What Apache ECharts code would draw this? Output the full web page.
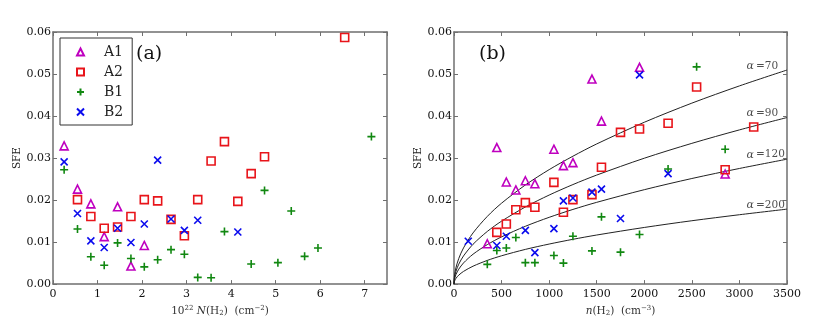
<!DOCTYPE html>
<html>
<head>
<meta charset="utf-8">
<script src="https://cdn.jsdelivr.net/npm/echarts@6/dist/echarts.min.js"></script>
<style>
  html, body { margin: 0; padding: 0; background: #fff; }
  #chart { width: 830px; height: 322px; }
</style>
</head>
<body>
<div id="chart"></div>
<script>
// panel (a): column density bins, 10^22 cm^-2
const a1N = [0.25, 0.55, 0.85, 1.15, 1.45, 1.75, 2.05]
const a1Sfe = [0.0329, 0.0226, 0.0191, 0.0113, 0.0184, 0.0043, 0.0092]
const a2N = [0.55, 0.85, 1.15, 1.45, 1.75, 2.05, 2.35, 2.65, 2.95, 3.25, 3.55, 3.85, 4.15, 4.45, 4.75, 6.55]
const a2Sfe = [0.0201, 0.0161, 0.0133, 0.0136, 0.0161, 0.0201, 0.0198, 0.0154, 0.0115, 0.0201, 0.0293, 0.0339, 0.0197, 0.0263, 0.0303, 0.0587]
const b1N = [0.25, 0.55, 0.85, 1.15, 1.45, 1.75, 2.05, 2.35, 2.65, 2.95, 3.25, 3.55, 3.85, 4.45, 4.75, 5.05, 5.35, 5.65, 5.95, 7.15]
const b1Sfe = [0.0272, 0.0131, 0.0065, 0.0045, 0.0098, 0.0061, 0.0041, 0.0058, 0.0082, 0.0071, 0.0016, 0.0015, 0.0125, 0.0048, 0.0223, 0.0051, 0.0174, 0.0066, 0.0086, 0.0351]
const b2N = [0.25, 0.55, 0.85, 1.15, 1.45, 1.75, 2.05, 2.35, 2.65, 2.95, 3.25, 4.15]
const b2Sfe = [0.0291, 0.0168, 0.0103, 0.0087, 0.0133, 0.0099, 0.0143, 0.0295, 0.0155, 0.0128, 0.0152, 0.0124]

// panel (b): volume density bins, cm^-3
const a1n = [350, 450, 550, 650, 750, 850, 1050, 1150, 1250, 1450, 1550, 1950, 2850]
const a1nSfe = [0.0096, 0.0325, 0.0243, 0.0224, 0.0246, 0.0239, 0.0321, 0.0282, 0.0289, 0.0488, 0.0388, 0.0516, 0.0262]
const a2n = [450, 550, 650, 750, 850, 1050, 1150, 1250, 1450, 1550, 1750, 1950, 2250, 2550, 2850, 3150]
const a2nSfe = [0.0123, 0.0143, 0.0177, 0.0194, 0.0183, 0.0242, 0.0171, 0.0201, 0.0213, 0.0278, 0.0361, 0.0369, 0.0383, 0.0469, 0.0272, 0.0374]
const b1n = [350, 450, 550, 650, 750, 850, 1050, 1150, 1250, 1450, 1550, 1750, 1950, 2250, 2550, 2850]
const b1nSfe = [0.0047, 0.0080, 0.0086, 0.0111, 0.0051, 0.0051, 0.0068, 0.0050, 0.0114, 0.0079, 0.0160, 0.0076, 0.0118, 0.0274, 0.0517, 0.0321]
const b2n = [150, 450, 550, 750, 850, 1050, 1150, 1250, 1450, 1550, 1750, 1950, 2250]
const b2nSfe = [0.0102, 0.0092, 0.0114, 0.0128, 0.0075, 0.0132, 0.0198, 0.0205, 0.0219, 0.0226, 0.0156, 0.0498, 0.0263]

// model curves
const curveN = [0, 5, 20, 50, 100, 200, 350, 500, 750, 1000, 1250, 1500, 2000, 2500, 3000, 3500]
const curve70 = [0, 0.00193, 0.00385, 0.00609, 0.00861, 0.01218, 0.01611, 0.01926, 0.02359, 0.02724, 0.03044, 0.03336, 0.03852, 0.04307, 0.04717, 0.05095]
const curve90 = [0, 0.00150, 0.00300, 0.00474, 0.00670, 0.00948, 0.01253, 0.01498, 0.01835, 0.02119, 0.02369, 0.02595, 0.02996, 0.03350, 0.03670, 0.03964]
const curve120 = [0, 0.00112, 0.00225, 0.00355, 0.00503, 0.00711, 0.00940, 0.01124, 0.01376, 0.01589, 0.01777, 0.01946, 0.02247, 0.02513, 0.02752, 0.02973]
const curve200 = [0, 0.00067, 0.00135, 0.00213, 0.00302, 0.00426, 0.00564, 0.00674, 0.00826, 0.00953, 0.01066, 0.01168, 0.01348, 0.01508, 0.01651, 0.01784]
const alphaLabels = ["70", "90", "120", "200"]
const alphaLabelY = [0.0518, 0.0407, 0.0308, 0.0188]

const yTicks = [0, 0.06, 0.01]
const serif = "DejaVu Serif"
const frame = "#6f6f6f"

const zip = (xs, ys) => xs.map((x, i) => [x, ys[i]])

const markers = {
  A1: { symbol: "triangle", size: 8, color: "#bf00bf" },
  A2: { symbol: "rect", size: 8, color: "#e8141a" },
  B1: { symbol: "path://M0,-1L0,1M-1,0L1,0", size: 8, color: "#118811" },
  B2: { symbol: "path://M-1,-1L1,1M-1,1L1,-1", size: 7, color: "#0b0bee" },
}

const scatter = (name, data, idx) => ({
  name,
  type: "scatter",
  xAxisIndex: idx,
  yAxisIndex: idx,
  data,
  symbol: markers[name].symbol,
  symbolSize: markers[name].size,
  itemStyle: {
    color: "rgba(0,0,0,0)",
    borderColor: markers[name].color,
    borderWidth: 1.6,
    opacity: 1,
  },
  emphasis: { disabled: true },
  z: 3,
})

const curve = (vals) => ({
  type: "line",
  xAxisIndex: 2,
  yAxisIndex: 2,
  data: zip(curveN, vals),
  smooth: 0.3,
  showSymbol: false,
  lineStyle: { color: "#222", width: 1 },
  silent: true,
  z: 2,
})

const frameAxis = (gridIndex, pos, extra) => ({
  gridIndex,
  position: pos,
  type: "value",
  axisLine: { show: true, onZero: false, lineStyle: { color: frame, width: 1.5 } },
  axisTick: { show: true, inside: true, length: 4, lineStyle: { color: frame } },
  splitLine: { show: false },
  ...extra,
})

const xLabel = {
  show: true,
  color: "#111",
  fontFamily: serif,
  fontSize: 11,
  margin: 5,
  formatter: (v) => String(v),
}
const yLabel = {
  show: true,
  color: "#111",
  fontFamily: serif,
  fontSize: 11,
  margin: 2,
  formatter: (v) => v.toFixed(2),
}
const noLabel = { show: false }

const yRange = { min: yTicks[0], max: yTicks[1], interval: yTicks[2] }

const nameRich = {
  n: { fontFamily: serif, fontSize: 10.5, color: "#333" },
  i: { fontFamily: serif, fontSize: 10.5, fontStyle: "italic", color: "#333" },
  s: { fontFamily: serif, fontSize: 7, color: "#333", padding: [0, 0, 5, 0] },
  b: { fontFamily: serif, fontSize: 7, color: "#333", padding: [5, 0, 0, 0] },
}

const option = {
  animation: false,
  grid: [
    { left: 53, top: 32, width: 334, height: 257 },
    { left: 454, top: 32, width: 333, height: 257 },
  ],
  xAxis: [
    frameAxis(0, "bottom", {
      min: 0, max: 7.5, interval: 1,
      axisLabel: { ...xLabel, showMaxLabel: false },
      name: "{n|10}{s|22} {i|N}{n|(H}{b|2}{n|)  (cm}{s|−2}{n|)}",
      nameLocation: "middle",
      nameGap: 19,
      nameTextStyle: { rich: nameRich },
    }),
    frameAxis(0, "top", { min: 0, max: 7.5, interval: 1, axisLabel: noLabel }),
    frameAxis(1, "bottom", {
      min: 0, max: 3500, interval: 500,
      axisLabel: xLabel,
      name: "{i|n}{n|(H}{b|2}{n|)  (cm}{s|−3}{n|)}",
      nameLocation: "middle",
      nameGap: 19,
      nameTextStyle: { rich: nameRich },
    }),
    frameAxis(1, "top", { min: 0, max: 3500, interval: 500, axisLabel: noLabel }),
  ],
  yAxis: [
    frameAxis(0, "left", {
      ...yRange,
      axisLabel: yLabel,
      name: "SFE",
      nameLocation: "middle",
      nameRotate: 90,
      nameGap: 30,
      nameTextStyle: { fontFamily: serif, fontSize: 10.5, color: "#222" },
    }),
    frameAxis(0, "right", { ...yRange, axisLabel: noLabel }),
    frameAxis(1, "left", {
      ...yRange,
      axisLabel: yLabel,
      name: "SFE",
      nameLocation: "middle",
      nameRotate: 90,
      nameGap: 30,
      nameTextStyle: { fontFamily: serif, fontSize: 10.5, color: "#222" },
    }),
    frameAxis(1, "right", { ...yRange, axisLabel: noLabel }),
  ],
  legend: {
    data: ["A1", "A2", "B1", "B2"],
    orient: "vertical",
    left: 60,
    top: 38,
    padding: [6, 9, 5, 16],
    itemWidth: 7,
    itemHeight: 7,
    itemGap: 4,
    backgroundColor: "#fff",
    borderColor: "#333",
    borderWidth: 1,
    borderRadius: 0,
    selectedMode: false,
    textStyle: { fontFamily: serif, fontSize: 14, color: "#222", padding: [0, 0, 0, 15], lineHeight: 16 },
  },
  graphic: [
    { type: "text", left: 136, top: 45, style: { text: "(a)", font: "19px 'DejaVu Serif'", fill: "#111" } },
    { type: "text", left: 479, top: 45, style: { text: "(b)", font: "19px 'DejaVu Serif'", fill: "#111" } },
  ],
  series: [
    scatter("A1", zip(a1N, a1Sfe), 0),
    scatter("A2", zip(a2N, a2Sfe), 0),
    scatter("B1", zip(b1N, b1Sfe), 0),
    scatter("B2", zip(b2N, b2Sfe), 0),
    curve(curve70),
    curve(curve90),
    curve(curve120),
    curve(curve200),
    scatter("A1", zip(a1n, a1nSfe), 2),
    scatter("A2", zip(a2n, a2nSfe), 2),
    scatter("B1", zip(b1n, b1nSfe), 2),
    scatter("B2", zip(b2n, b2nSfe), 2),
    {
      type: "scatter",
      xAxisIndex: 2,
      yAxisIndex: 2,
      symbolSize: 0,
      silent: true,
      data: alphaLabels.map((a, i) => ({ value: [3075, alphaLabelY[i]], name: a })),
      label: {
        show: true,
        position: "right",
        distance: 0,
        formatter: (p) => "{g|α}{t|=" + p.name + "}",
        rich: {
          g: { fontFamily: serif, fontSize: 11, fontStyle: "italic", color: "#222", padding: [0, 2, 0, 0] },
          t: { fontFamily: serif, fontSize: 10.5, color: "#222" },
        },
      },
    },
  ],
}

const myChart = echarts.init(document.getElementById("chart"))
myChart.setOption(option)
</script>
</body>
</html>
